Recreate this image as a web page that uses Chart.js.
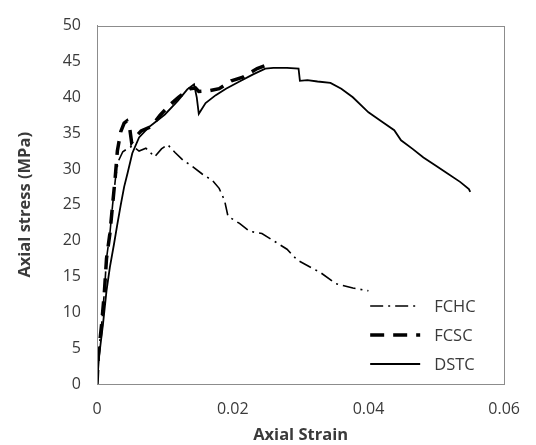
<!DOCTYPE html>
<html lang="en">
<head>
  <meta charset="UTF-8">
  <title>Axial stress vs axial strain</title>
  <script src="https://cdn.jsdelivr.net/npm/chart.js"></script>
  <style>
    html, body { margin: 0; padding: 0; background: #fff; }
    .chart-box { width: 536px; height: 445px; }
  </style>
</head>
<body>
<div class="chart-box">
  <canvas id="stressChart"></canvas>
</div>

<script>
  // Data (strain, stress in MPa)
  const fchcStrain = [0, 0.0002, 0.0007, 0.0011, 0.0014, 0.0019, 0.0023, 0.0027, 0.0031, 0.0038, 0.0046, 0.0052, 0.0062, 0.0072, 0.0085, 0.0095, 0.0104, 0.0115, 0.0127, 0.014, 0.0155, 0.017, 0.018, 0.0188, 0.0193, 0.021, 0.0225, 0.0243, 0.026, 0.028, 0.0295, 0.033, 0.0352, 0.0377, 0.040];
  const fchcStress = [0, 4, 8.5, 13, 17.5, 21, 25, 28.5, 31, 32.4, 32.9, 33.2, 32.5, 32.9, 31.7, 32.8, 33.4, 32.3, 31.2, 30.4, 29.3, 28.4, 27.3, 25.6, 23.4, 22.4, 21.3, 21, 20, 18.8, 17.3, 15.5, 14, 13.4, 13];

  const fcscStrain = [0, 0.0002, 0.0007, 0.0011, 0.0014, 0.0019, 0.0023, 0.0027, 0.003, 0.0035, 0.004, 0.0044, 0.0048, 0.0051, 0.0057, 0.0065, 0.008, 0.0093, 0.0107, 0.012, 0.0137, 0.0145, 0.015, 0.0165, 0.018, 0.0198, 0.0215, 0.0236, 0.0255];
  const fcscStress = [0, 4, 8.5, 13, 17.5, 21, 25, 29, 32.5, 35.2, 36.4, 36.7, 35.8, 33.7, 34.5, 35.3, 35.9, 37.5, 38.9, 40, 41.2, 41.3, 40.8, 40.9, 41.2, 42.3, 42.8, 44, 44.7];

  const dstcStrain = [0, 0.0003, 0.0009, 0.0014, 0.0019, 0.0025, 0.003, 0.0035, 0.004, 0.0045, 0.0052, 0.0062, 0.0076, 0.0088, 0.01, 0.011, 0.0119, 0.0127, 0.0133, 0.0143, 0.0147, 0.015, 0.016, 0.0175, 0.019, 0.021, 0.023, 0.0248, 0.026, 0.028, 0.0297, 0.0299, 0.031, 0.0325, 0.0344, 0.036, 0.0377, 0.04, 0.042, 0.0438, 0.0448, 0.0465, 0.0481, 0.05, 0.0516, 0.0535, 0.0548, 0.055];
  const dstcStress = [0, 3.8, 8.5, 13, 16.3, 19.5, 22.3, 25, 27.5, 29.4, 32.2, 34.4, 35.8, 36.7, 37.6, 38.6, 39.5, 40.4, 41.1, 41.8, 40, 37.7, 39.2, 40.3, 41.2, 42.2, 43.2, 44, 44.1, 44.1, 44, 42.3, 42.4, 42.2, 42, 41.2, 40, 37.9, 36.6, 35.4, 34, 32.8, 31.6, 30.4, 29.4, 28.2, 27.2, 26.8];

  const seriesLabels = ['FCHC', 'FCSC', 'DSTC'];
  const xTicks = [0, 0.02, 0.04, 0.06];
  const yTicks = [0, 5, 10, 15, 20, 25, 30, 35, 40, 45, 50];

  const textColor = '#3a3a3a';
  const axisColor = '#8c8c8c';
  const fontName = "'Open Sans', sans-serif";

  function toPoints(xs, ys) {
    return xs.map((x, i) => ({ x: x, y: ys[i] }));
  }

  // frame round the plot area (Excel style box)
  const plotFrame = {
    id: 'plotFrame',
    afterDatasetsDraw(chart) {
      const a = chart.chartArea;
      const ctx = chart.ctx;
      ctx.save();
      ctx.strokeStyle = axisColor;
      ctx.lineWidth = 1;
      ctx.strokeRect(Math.round(a.left) + 0.5, Math.round(a.top) + 0.5, Math.round(a.right - a.left), Math.round(a.bottom - a.top));
      ctx.restore();
    }
  };

  // legend inside the plot, bottom right, built from the datasets
  const insideLegend = {
    id: 'insideLegend',
    afterDraw(chart) {
      const a = chart.chartArea;
      const ctx = chart.ctx;
      const x0 = a.right - 134;
      const lineLen = 50;
      ctx.save();
      chart.data.datasets.forEach((ds, i) => {
        const y = a.bottom - 78 + i * 29;
        ctx.beginPath();
        ctx.setLineDash(ds.borderDash || []);
        ctx.lineWidth = ds.borderWidth;
        ctx.strokeStyle = ds.borderColor;
        ctx.moveTo(x0, y);
        ctx.lineTo(x0 + lineLen, y);
        ctx.stroke();
        ctx.setLineDash([]);
        ctx.fillStyle = textColor;
        ctx.font = "16.5px " + fontName;
        ctx.textBaseline = 'middle';
        ctx.fillText(ds.label, x0 + lineLen + 14, y + 1);
      });
      ctx.restore();
    }
  };

  window.onload = function() {
    const ctx = document.getElementById('stressChart').getContext('2d');

    new Chart(ctx, {
      type: 'line',
      data: {
        datasets: [
          {
            label: seriesLabels[0],
            data: toPoints(fchcStrain, fchcStress),
            borderColor: '#000',
            borderWidth: 1.6,
            borderDash: [13, 5, 2, 5]
          },
          {
            label: seriesLabels[1],
            data: toPoints(fcscStrain, fcscStress),
            borderColor: '#000',
            borderWidth: 3.5,
            borderDash: [14, 9]
          },
          {
            label: seriesLabels[2],
            data: toPoints(dstcStrain, dstcStress),
            borderColor: '#000',
            borderWidth: 1.8
          }
        ]
      },
      options: {
        responsive: true,
        maintainAspectRatio: false,
        animation: false,
        parsing: false,
        elements: {
          point: { radius: 0 },
          line: { tension: 0, fill: false }
        },
        layout: {
          padding: { top: 25, right: 20, left: 0, bottom: 0 }
        },
        plugins: {
          legend: { display: false },
          tooltip: { enabled: false }
        },
        scales: {
          x: {
            type: 'linear',
            min: 0,
            max: 0.06,
            afterBuildTicks: scale => { scale.ticks = xTicks.map(v => ({ value: v })); },
            afterFit: scale => { scale.height = 61; },
            grid: { display: false, drawTicks: false },
            border: { display: true, color: axisColor },
            ticks: {
              color: textColor,
              padding: 16,
              maxRotation: 0,
              font: { family: fontName, size: 16 },
              callback: v => String(v)
            },
            title: {
              display: true,
              text: 'Axial Strain',
              color: textColor,
              font: { family: fontName, size: 16.5, weight: 'bold' },
              padding: { top: 0, bottom: 0 }
            }
          },
          y: {
            min: 0,
            max: 50,
            afterBuildTicks: scale => { scale.ticks = yTicks.map(v => ({ value: v })); },
            afterFit: scale => { scale.width = 97; },
            grid: { display: false, drawTicks: false },
            border: { display: true, color: axisColor },
            ticks: {
              color: textColor,
              padding: 16,
              font: { family: fontName, size: 16 }
            },
            title: {
              display: true,
              text: 'Axial stress (MPa)',
              color: textColor,
              font: { family: fontName, size: 16.5, weight: 'bold' },
              padding: { top: 15, bottom: 0 }
            }
          }
        }
      },
      plugins: [plotFrame, insideLegend]
    });
  };
</script>
</body>
</html>
